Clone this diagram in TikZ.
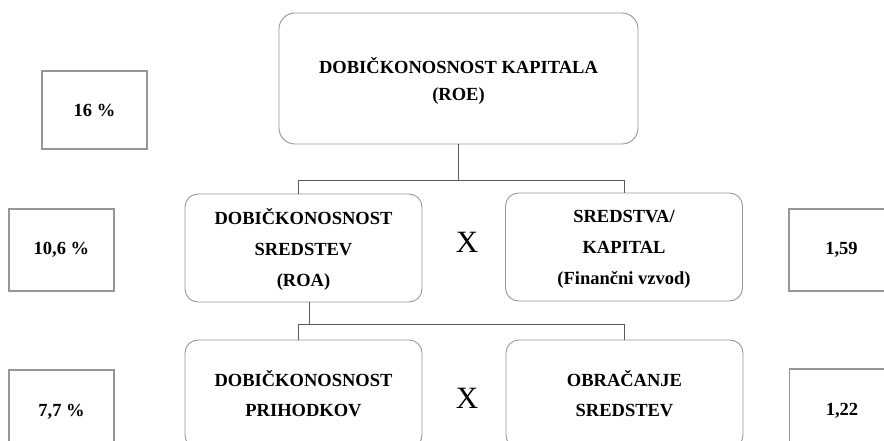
\documentclass[tikz,border=0pt]{standalone}
\usepackage{fontspec}
\setmainfont{Liberation Serif}
\usetikzlibrary{positioning}
\definecolor{boxgray}{RGB}{150,150,150}
\definecolor{linkgray}{RGB}{90,90,90}

\tikzset{
  ratio/.style={draw=boxgray,line width=0.9pt,rounded corners=13pt,
    align=center,font=\fontsize{18.5}{31}\selectfont\bfseries,
    minimum width=237pt,minimum height=108pt,inner sep=0pt,
    text depth=1pt},
  value/.style={draw=boxgray,line width=1.1pt,
    font=\fontsize{18.5}{22}\selectfont\bfseries,
    minimum width=105pt,inner sep=0pt},
  times/.style={font=\fontsize{31}{31}\selectfont},
  link/.style={draw=linkgray,line width=0.7pt},
}

\begin{document}
\begin{tikzpicture}[x=1pt,y=-1pt]
  % page is 884 x 441, y runs downward
  \useasboundingbox (0,0) rectangle (884,441);
  \clip (0,0) rectangle (884,441);

  % ratio boxes
  \node[ratio,minimum width=359pt,minimum height=131pt,rounded corners=16pt,
    font=\fontsize{18.5}{27}\selectfont\bfseries,text height=46pt]
    (roe) at (458.5,78.5) {DOBIČKONOSNOST KAPITALA\\(ROE)};
  \node[ratio,text height=77pt] (roa) at (303.5,248) {DOBIČKONOSNOST\\SREDSTEV\\(ROA)};
  \node[ratio,text height=75pt] (lev) at (624,247) {SREDSTVA/\\KAPITAL\\(Finančni vzvod)};
  \node[ratio,font=\fontsize{18.5}{30}\selectfont\bfseries,text height=45pt]
    (ros) at (303.5,394) {DOBIČKONOSNOST\\PRIHODKOV};
  \node[ratio,font=\fontsize{18.5}{30}\selectfont\bfseries,text height=45pt]
    (tat) at (624.5,394) {OBRAČANJE\\SREDSTEV};

  \node[times] (x1) at (467,242) {X};
  \node[times] (x2) at (467,398) {X};

  % values
  \node[value,minimum height=78pt] (vroe) at (94.5,110) {16 \%};
  \node[value,minimum height=82pt] (vroa) at (61.5,250) {10,6 \%};
  \node[value,minimum height=82pt] (vlev) at (841.5,250) {1,59};
  \node[value,minimum height=84pt] (vros) at (61.5,412) {7,7 \%};
  \node[value,minimum height=84pt] (vtat) at (842,411) {1,22};

  % connectors
  \coordinate (bus1) at (0,180);
  \coordinate (bus2) at (0,324);
  \draw[link] (roe.south) -- (roe.south |- bus1);
  \draw[link] ([xshift=-5.5pt]roa.north) |- (lev.north |- bus1) -- (lev.north);
  \draw[link] ([xshift=5.5pt]roa.south) -- ([xshift=5.5pt]roa.south |- bus2);
  \draw[link] ([xshift=-5.5pt]ros.north) |- (tat.north |- bus2) -- (tat.north);
\end{tikzpicture}
\end{document}
